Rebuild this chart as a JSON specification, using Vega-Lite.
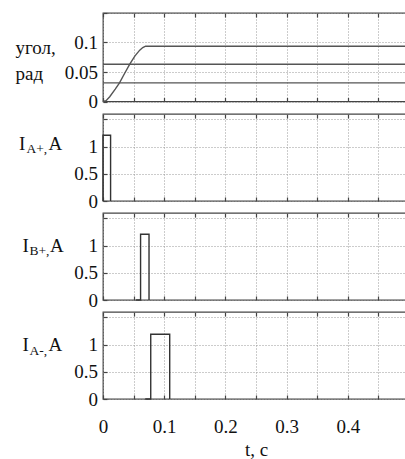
{
  "$schema": "https://vega.github.io/schema/vega-lite/v6.json",
  "padding": {"top": 11, "left": 14, "right": 0, "bottom": 0},
  "bounds": "flush",
  "spacing": 12,
  "config": {
    "font": "Times New Roman, Liberation Serif, DejaVu Serif, serif",
    "view": {"stroke": "#444", "strokeWidth": 1.3},
    "axis": {
      "domain": false,
      "labelFont": "Times New Roman, Liberation Serif, DejaVu Serif, serif", "labelFontSize": 19, "labelColor": "#111",
      "titleFont": "Times New Roman, Liberation Serif, DejaVu Serif, serif", "titleFontSize": 19, "titleFontWeight": "normal", "titleColor": "#111",
      "gridColor": "#999", "gridDash": [1, 2], "gridWidth": 1,
      "tickColor": "#444", "tickSize": -4, "tickWidth": 1.2
    }
  },
  "datasets": {
    "angle": [
      {"i": 0, "s": "a", "t": 0, "v": 0},
      {"i": 1, "s": "a", "t": 0.005, "v": 0.0015},
      {"i": 2, "s": "a", "t": 0.011, "v": 0.008},
      {"i": 3, "s": "a", "t": 0.02, "v": 0.021},
      {"i": 4, "s": "a", "t": 0.027, "v": 0.0316},
      {"i": 5, "s": "a", "t": 0.035, "v": 0.047},
      {"i": 6, "s": "a", "t": 0.0435, "v": 0.063},
      {"i": 7, "s": "a", "t": 0.052, "v": 0.077},
      {"i": 8, "s": "a", "t": 0.06, "v": 0.087},
      {"i": 9, "s": "a", "t": 0.065, "v": 0.0915},
      {"i": 10, "s": "a", "t": 0.0696, "v": 0.0937},
      {"i": 11, "s": "a", "t": 0.5, "v": 0.0937},
      {"i": 0, "s": "b", "t": 0, "v": 0.0632},
      {"i": 1, "s": "b", "t": 0.5, "v": 0.0632},
      {"i": 0, "s": "c", "t": 0, "v": 0.0316},
      {"i": 1, "s": "c", "t": 0.5, "v": 0.0316}
    ],
    "iap": [
      {"i": 0, "t": 0, "v": 0},
      {"i": 1, "t": 0, "v": 1.21},
      {"i": 2, "t": 0.0124, "v": 1.21},
      {"i": 3, "t": 0.0124, "v": 0}
    ],
    "ibp": [
      {"i": 0, "t": 0.054, "v": 0},
      {"i": 1, "t": 0.0614, "v": 0},
      {"i": 2, "t": 0.0614, "v": 1.21},
      {"i": 3, "t": 0.0752, "v": 1.21},
      {"i": 4, "t": 0.0752, "v": 0}
    ],
    "iam": [
      {"i": 0, "t": 0.069, "v": 0},
      {"i": 1, "t": 0.078, "v": 0},
      {"i": 2, "t": 0.078, "v": 1.19},
      {"i": 3, "t": 0.109, "v": 1.19},
      {"i": 4, "t": 0.109, "v": 0}
    ]
  },
  "vconcat": [
    {
      "width": 306, "height": 88.5,
      "data": {"name": "angle"},
      "layer": [
        {
          "mark": {"type": "line", "color": "#555", "strokeWidth": 1.4},
          "encoding": {
            "x": {"field": "t", "type": "quantitative", "scale": {"domain": [0, 0.5]},
                  "axis": {"values": [0, 0.05, 0.1, 0.15, 0.2, 0.25, 0.3, 0.35, 0.4, 0.45, 0.5], "labels": false, "title": null, "grid": true}},
            "y": {"field": "v", "type": "quantitative", "scale": {"domain": [0, 0.15]},
                  "axis": {"values": [0, 0.05, 0.1, 0.15], "format": "~g", "labelExpr": "datum.value > 0.14 ? '' : datum.label", "labelPadding": 9.5,
                           "title": ["угол,", "рад"], "titleAngle": 0, "titleAlign": "left", "titleBaseline": "alphabetic",
                           "titleX": -88, "titleY": 40.7, "titleLineHeight": 26}},
            "detail": {"field": "s"},
            "order": {"field": "i"}
          }
        },
        {
          "mark": {"type": "line", "strokeOpacity": 0},
          "encoding": {
            "x": {"field": "t", "type": "quantitative",
                  "axis": {"orient": "top", "values": [0, 0.05, 0.1, 0.15, 0.2, 0.25, 0.3, 0.35, 0.4, 0.45, 0.5], "labels": false, "grid": false, "title": null}}
          }
        }
      ],
      "resolve": {"axis": {"x": "independent"}}
    },
    {
      "width": 306, "height": 87,
      "data": {"name": "iap"},
      "layer": [
        {
          "mark": {"type": "line", "color": "#333", "strokeWidth": 1.4},
          "encoding": {
            "x": {"field": "t", "type": "quantitative", "scale": {"domain": [0, 0.5]},
                  "axis": {"values": [0, 0.05, 0.1, 0.15, 0.2, 0.25, 0.3, 0.35, 0.4, 0.45, 0.5], "labels": false, "title": null, "grid": true}},
            "y": {"field": "v", "type": "quantitative", "scale": {"domain": [0, 1.5]},
                  "axis": {"values": [0, 0.5, 1, 1.5], "format": "~g", "labelExpr": "datum.value > 1.4 ? '' : datum.label", "labelPadding": 9.5,
                           "title": "I", "titleAngle": 0, "titleAlign": "left", "titleBaseline": "alphabetic",
                           "titleX": -84.4, "titleY": 35.3}},
            "order": {"field": "i"}
          }
        },
        {
          "mark": {"type": "line", "strokeOpacity": 0},
          "encoding": {
            "x": {"field": "t", "type": "quantitative",
                  "axis": {"orient": "top", "values": [0, 0.05, 0.1, 0.15, 0.2, 0.25, 0.3, 0.35, 0.4, 0.45, 0.5], "labels": false, "grid": false,
                           "title": "A+,", "titleFontSize": 13.5, "titleAngle": 0, "titleAlign": "left", "titleBaseline": "alphabetic",
                           "titleX": -77, "titleY": 38.7}},
            "y": {"field": "v", "type": "quantitative",
                  "axis": {"orient": "right", "values": [0, 0.5, 1, 1.5], "labels": false, "grid": false,
                           "title": "A", "titleAngle": 0, "titleAlign": "left", "titleBaseline": "alphabetic",
                           "titleX": -361, "titleY": 35.3}}
          }
        }
      ],
      "resolve": {"axis": {"x": "independent", "y": "independent"}}
    },
    {
      "width": 306, "height": 87,
      "data": {"name": "ibp"},
      "layer": [
        {
          "mark": {"type": "line", "color": "#333", "strokeWidth": 1.4},
          "encoding": {
            "x": {"field": "t", "type": "quantitative", "scale": {"domain": [0, 0.5]},
                  "axis": {"values": [0, 0.05, 0.1, 0.15, 0.2, 0.25, 0.3, 0.35, 0.4, 0.45, 0.5], "labels": false, "title": null, "grid": true}},
            "y": {"field": "v", "type": "quantitative", "scale": {"domain": [0, 1.5]},
                  "axis": {"values": [0, 0.5, 1, 1.5], "format": "~g", "labelExpr": "datum.value > 1.4 ? '' : datum.label", "labelPadding": 9.5,
                           "title": "I", "titleAngle": 0, "titleAlign": "left", "titleBaseline": "alphabetic",
                           "titleX": -81, "titleY": 38}},
            "order": {"field": "i"}
          }
        },
        {
          "mark": {"type": "line", "strokeOpacity": 0},
          "encoding": {
            "x": {"field": "t", "type": "quantitative",
                  "axis": {"orient": "top", "values": [0, 0.05, 0.1, 0.15, 0.2, 0.25, 0.3, 0.35, 0.4, 0.45, 0.5], "labels": false, "grid": false,
                           "title": "B+,", "titleFontSize": 13.5, "titleAngle": 0, "titleAlign": "left", "titleBaseline": "alphabetic",
                           "titleX": -74, "titleY": 41.3}},
            "y": {"field": "v", "type": "quantitative",
                  "axis": {"orient": "right", "values": [0, 0.5, 1, 1.5], "labels": false, "grid": false,
                           "title": "A", "titleAngle": 0, "titleAlign": "left", "titleBaseline": "alphabetic",
                           "titleX": -359.4, "titleY": 38}}
          }
        }
      ],
      "resolve": {"axis": {"x": "independent", "y": "independent"}}
    },
    {
      "width": 306, "height": 87,
      "data": {"name": "iam"},
      "layer": [
        {
          "mark": {"type": "line", "color": "#333", "strokeWidth": 1.4},
          "encoding": {
            "x": {"field": "t", "type": "quantitative", "scale": {"domain": [0, 0.5]},
                  "axis": {"values": [0, 0.05, 0.1, 0.15, 0.2, 0.25, 0.3, 0.35, 0.4, 0.45, 0.5], "format": "~g",
                           "labelExpr": "round(datum.value * 20) % 2 == 1 || datum.value > 0.45 ? '' : datum.label",
                           "labelPadding": 22, "labelFlush": false, "title": "t, c", "titlePadding": 4, "grid": true}},
            "y": {"field": "v", "type": "quantitative", "scale": {"domain": [0, 1.5]},
                  "axis": {"values": [0, 0.5, 1, 1.5], "format": "~g", "labelExpr": "datum.value > 1.4 ? '' : datum.label", "labelPadding": 9.5,
                           "title": "I", "titleAngle": 0, "titleAlign": "left", "titleBaseline": "alphabetic",
                           "titleX": -81, "titleY": 38}},
            "order": {"field": "i"}
          }
        },
        {
          "mark": {"type": "line", "strokeOpacity": 0},
          "encoding": {
            "x": {"field": "t", "type": "quantitative",
                  "axis": {"orient": "top", "values": [0, 0.05, 0.1, 0.15, 0.2, 0.25, 0.3, 0.35, 0.4, 0.45, 0.5], "labels": false, "grid": false,
                           "title": "A-,", "titleFontSize": 13.5, "titleAngle": 0, "titleAlign": "left", "titleBaseline": "alphabetic",
                           "titleX": -74, "titleY": 42}},
            "y": {"field": "v", "type": "quantitative",
                  "axis": {"orient": "right", "values": [0, 0.5, 1, 1.5], "labels": false, "grid": false,
                           "title": "A", "titleAngle": 0, "titleAlign": "left", "titleBaseline": "alphabetic",
                           "titleX": -361, "titleY": 38}}
          }
        }
      ],
      "resolve": {"axis": {"x": "independent", "y": "independent"}}
    }
  ]
}
